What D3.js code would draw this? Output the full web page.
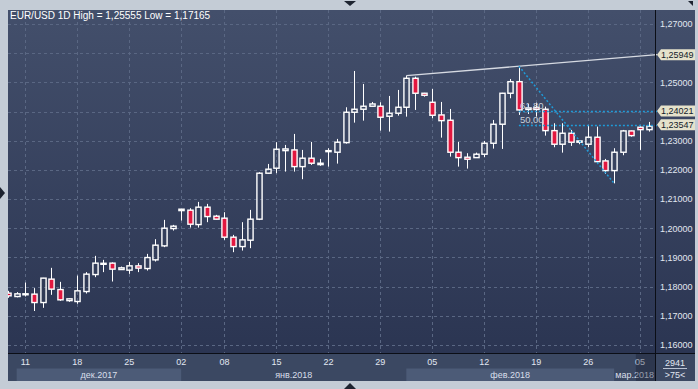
<!DOCTYPE html>
<html>
<head>
<meta charset="utf-8">
<script src="https://cdn.jsdelivr.net/npm/d3@7"></script>
<style>
  html, body { margin: 0; padding: 0; background: #c4ccd6; }
  svg { display: block; }
</style>
</head>
<body>
<svg id="chart"></svg>
<script>
// Daily EUR/USD candles, 8 Dec 2017 - 6 Mar 2018 (Sunday sessions included)
const dates = [
  "2017-12-08", "2017-12-10", "2017-12-11", "2017-12-12", "2017-12-13", "2017-12-14", "2017-12-15",
  "2017-12-17", "2017-12-18", "2017-12-19", "2017-12-20", "2017-12-21", "2017-12-22",
  "2017-12-24", "2017-12-25", "2017-12-26", "2017-12-27", "2017-12-28", "2017-12-29",
  "2017-12-31", "2018-01-02", "2018-01-03", "2018-01-04", "2018-01-05",
  "2018-01-07", "2018-01-08", "2018-01-09", "2018-01-10", "2018-01-11", "2018-01-12",
  "2018-01-14", "2018-01-15", "2018-01-16", "2018-01-17", "2018-01-18", "2018-01-19",
  "2018-01-21", "2018-01-22", "2018-01-23", "2018-01-24", "2018-01-25", "2018-01-26",
  "2018-01-28", "2018-01-29", "2018-01-30", "2018-01-31", "2018-02-01", "2018-02-02",
  "2018-02-04", "2018-02-05", "2018-02-06", "2018-02-07", "2018-02-08", "2018-02-09",
  "2018-02-11", "2018-02-12", "2018-02-13", "2018-02-14", "2018-02-15", "2018-02-16",
  "2018-02-18", "2018-02-19", "2018-02-20", "2018-02-21", "2018-02-22", "2018-02-23",
  "2018-02-25", "2018-02-26", "2018-02-27", "2018-02-28", "2018-03-01", "2018-03-02",
  "2018-03-04", "2018-03-05", "2018-03-06"
];
const open = [
  1.17777, 1.17661, 1.17740, 1.17743, 1.17455, 1.18257, 1.17900,
  1.17520, 1.17490, 1.17832, 1.18414, 1.18785, 1.18805,
  1.18586, 1.18565, 1.18712, 1.18620, 1.18918, 1.19397,
  1.19990, 1.20606, 1.20620, 1.20127, 1.20723,
  1.20414, 1.20346, 1.19695, 1.19373, 1.19592, 1.20312,
  1.21887, 1.22058, 1.22661, 1.22685, 1.22113, 1.22401,
  1.22182, 1.22651, 1.22606, 1.22935, 1.23976, 1.24079,
  1.24182, 1.24182, 1.23839, 1.23942, 1.24147, 1.25140,
  1.24627, 1.24318, 1.23884, 1.23702, 1.22606, 1.22435,
  1.22421, 1.22538, 1.22914, 1.23565, 1.24627, 1.25024,
  1.24072, 1.24140, 1.24079, 1.23346, 1.22880, 1.23257,
  1.22949, 1.22880, 1.23120, 1.22308, 1.21976, 1.22606,
  1.23336, 1.23462, 1.23380
];
const high = [
  1.17856, 1.17812, 1.18140, 1.17949, 1.18300, 1.18644, 1.18164,
  1.17600, 1.18380, 1.18497, 1.19055, 1.18918, 1.18830,
  1.18688, 1.18849, 1.18805, 1.19123, 1.19627, 1.20288,
  1.20116, 1.20660, 1.20688, 1.20904, 1.20836,
  1.20459, 1.20551, 1.19774, 1.20209, 1.20630, 1.21920,
  1.22205, 1.22949, 1.22856, 1.23233, 1.22685, 1.22959,
  1.22377, 1.22743, 1.23062, 1.24147, 1.25390, 1.24945,
  1.24329, 1.24318, 1.24534, 1.24740, 1.25229, 1.25195,
  1.24640, 1.24774, 1.24329, 1.24089, 1.22959, 1.22572,
  1.22593, 1.22993, 1.23712, 1.24640, 1.25116, 1.25555,
  1.24260, 1.24305, 1.24168, 1.23599, 1.23599, 1.23370,
  1.23010, 1.23541, 1.23483, 1.22377, 1.22743, 1.23370,
  1.23350, 1.23497, 1.23644
];
const low = [
  1.17616, 1.17634, 1.17661, 1.17165, 1.17274, 1.17719, 1.17514,
  1.17479, 1.17411, 1.17764, 1.18325, 1.18497, 1.18175,
  1.18575, 1.18438, 1.18497, 1.18551, 1.18860, 1.19353,
  1.19921, 1.20264, 1.20024, 1.20024, 1.20209,
  1.20300, 1.19603, 1.19181, 1.19236, 1.19318, 1.20280,
  1.21870, 1.21887, 1.21942, 1.21942, 1.21682, 1.22171,
  1.22140, 1.22113, 1.22216, 1.22900, 1.23620, 1.23688,
  1.24175, 1.23346, 1.23312, 1.23860, 1.23825, 1.24055,
  1.24510, 1.23771, 1.23106, 1.22455, 1.22113, 1.22045,
  1.22410, 1.22435, 1.22729, 1.22719, 1.24455, 1.23884,
  1.23918, 1.23825, 1.23175, 1.22777, 1.22592, 1.22822,
  1.22880, 1.22777, 1.22229, 1.21863, 1.21539, 1.22503,
  1.23140, 1.22685, 1.23312
];
const close = [
  1.17685, 1.17753, 1.17755, 1.17455, 1.18291, 1.17914, 1.17548,
  1.17582, 1.17856, 1.18428, 1.18805, 1.18800, 1.18599,
  1.18644, 1.18712, 1.18634, 1.18997, 1.19421, 1.20003,
  1.20072, 1.20654, 1.20140, 1.20723, 1.20401,
  1.20312, 1.19695, 1.19373, 1.19603, 1.20312, 1.21887,
  1.22024, 1.22709, 1.22719, 1.22113, 1.22401, 1.22229,
  1.22229, 1.22660, 1.22949, 1.23976, 1.24079, 1.24182,
  1.24260, 1.23805, 1.23942, 1.24147, 1.25140, 1.24627,
  1.24558, 1.23873, 1.23688, 1.22606, 1.22421, 1.22366,
  1.22538, 1.22914, 1.23565, 1.24627, 1.25024, 1.24055,
  1.24123, 1.24072, 1.23346, 1.22880, 1.23257, 1.22949,
  1.22993, 1.23120, 1.22284, 1.21976, 1.22606, 1.23336,
  1.23175, 1.23380, 1.23497
];

// Axis ticks and labels
const priceTicks = [1.16, 1.17, 1.18, 1.19, 1.20, 1.21, 1.22, 1.23, 1.24, 1.25, 1.26, 1.27];
const dateTicks = ["2017-12-11", "2017-12-18", "2017-12-25", "2018-01-02", "2018-01-08", "2018-01-15",
  "2018-01-22", "2018-01-29", "2018-02-05", "2018-02-12", "2018-02-19", "2018-02-26", "2018-03-05"];
const months = ["дек.2017", "янв.2018", "фев.2018", "мар.2018"];
const monthStarts = ["2017-12-10", "2018-01-02", "2018-02-01", "2018-03-01"];

// Drawing tools: trend line over two highs, Fibonacci retracement
const trendFrom = "2018-02-01";
const trendTo = "2018-02-16";
const fibHighDate = "2018-02-16";
const fibLowDate = "2018-03-01";
const fibLevels = [0.618, 0.5];
const fibNames = ["61,80", "50,00"];

const title = "EUR/USD 1D High = 1,25555 Low = 1,17165";
const barCount = ">75<";
const scaleInfo = "2941";

// Layout
const W = 698, H = 389;
const plot = { left: 8, top: 10, right: 655, bottom: 353 };
const panelRight = 695, panelBottom = 381;
const font = "'Liberation Sans', Arial, sans-serif";
const fmt = v => d3.format(".5f")(v).replace(".", ",");

const data = dates.map((d, i) => ({ date: d, o: open[i], h: high[i], l: low[i], c: close[i] }));
const byDate = new Map(data.map(d => [d.date, d]));

const svg = d3.select("#chart").attr("width", W).attr("height", H);

// Scales
const x = d3.scaleBand()
  .domain(dates)
  .range([3.67, 653.1])
  .paddingInner(0.25)
  .paddingOuter(0.125);
const y = d3.scaleLinear().domain([1.16, 1.27]).range([345, 24]);
const cx = d => x(d) + x.bandwidth() / 2;

// Background gradient
const defs = svg.append("defs");
const grad = defs.append("linearGradient").attr("id", "bg").attr("x1", 0).attr("y1", 0).attr("x2", 0).attr("y2", 1);
grad.append("stop").attr("offset", "0%").attr("stop-color", "#434f6b");
grad.append("stop").attr("offset", "100%").attr("stop-color", "#2b3552");
defs.append("clipPath").attr("id", "clip")
  .append("rect").attr("x", plot.left).attr("y", plot.top)
  .attr("width", plot.right - plot.left).attr("height", plot.bottom - plot.top);

// Outer frame and small arrows
svg.append("rect").attr("width", W).attr("height", H).attr("fill", "#c4ccd6");
svg.append("path").attr("d", "M344,1L356,1L350,6Z").attr("fill", "#1d2330");
svg.append("path").attr("d", "M344,389L356,389L350,383Z").attr("fill", "#1d2330");
svg.append("path").attr("d", "M0,187L5,193L0,199Z").attr("fill", "#1d2330");
svg.append("path").attr("d", "M688,1L693,1L693,6Z").attr("fill", "#1d2330");

svg.append("rect")
  .attr("x", plot.left).attr("y", plot.top)
  .attr("width", panelRight - plot.left).attr("height", plot.bottom - plot.top)
  .attr("fill", "url(#bg)");

// Bottom axis row with month bands
svg.append("rect")
  .attr("x", plot.left).attr("y", plot.bottom)
  .attr("width", panelRight - plot.left).attr("height", panelBottom - plot.bottom)
  .attr("fill", "#3b4862");

const bandEdges = monthStarts.map(d => cx(d)).concat([plot.right]);
months.forEach((m, i) => {
  const x0 = bandEdges[i], x1 = bandEdges[i + 1];
  if (i % 2 === 0) {
    svg.append("rect").attr("x", x0).attr("y", 368.5).attr("width", x1 - x0).attr("height", 12.5)
      .attr("fill", "#4c5b77");
  }
  svg.append("text")
    .attr("x", (x0 + x1) / 2).attr("y", 377.5)
    .attr("text-anchor", "middle")
    .attr("font-family", font).attr("font-size", 9)
    .attr("fill", "#d9dfea")
    .text(m);
});

// Grid
const grid = svg.append("g").attr("clip-path", "url(#clip)");
grid.selectAll(".hgrid").data(priceTicks).enter().append("line")
  .attr("x1", plot.left).attr("x2", plot.right)
  .attr("y1", d => Math.round(y(d)) + 0.5).attr("y2", d => Math.round(y(d)) + 0.5)
  .attr("stroke", "#5a6783").attr("stroke-dasharray", "3,3");
grid.selectAll(".vgrid").data(dateTicks).enter().append("line")
  .attr("x1", d => Math.round(cx(d)) + 0.5).attr("x2", d => Math.round(cx(d)) + 0.5)
  .attr("y1", plot.top).attr("y2", plot.bottom)
  .attr("stroke", "#5a6783").attr("stroke-dasharray", "3,3");

// Candles
const candles = svg.append("g").attr("clip-path", "url(#clip)")
  .selectAll(".candle").data(data).enter().append("g").attr("class", "candle");
const bodyW = x.bandwidth() - 1.3;

candles.append("line")
  .attr("x1", d => Math.round(cx(d.date)) + 0.5).attr("x2", d => Math.round(cx(d.date)) + 0.5)
  .attr("y1", d => y(d.h)).attr("y2", d => y(Math.max(d.o, d.c)))
  .attr("stroke", "#ffffff");
candles.append("line")
  .attr("x1", d => Math.round(cx(d.date)) + 0.5).attr("x2", d => Math.round(cx(d.date)) + 0.5)
  .attr("y1", d => y(Math.min(d.o, d.c))).attr("y2", d => y(d.l))
  .attr("stroke", "#ffffff");
candles.append("rect")
  .attr("x", d => Math.round(cx(d.date)) + 0.5 - bodyW / 2)
  .attr("width", bodyW)
  .attr("y", d => y(Math.max(d.o, d.c)))
  .attr("height", d => Math.max(1, Math.abs(y(d.o) - y(d.c))))
  .attr("fill", d => d.c < d.o ? "#e2173f" : "none")
  .attr("stroke", "#ffffff").attr("stroke-width", 1.4);

// Trend line through two highs, extended to the right edge
const p1 = [cx(trendFrom), y(byDate.get(trendFrom).h)];
const p2 = [cx(trendTo), y(byDate.get(trendTo).h)];
const edgeY = p2[1] + (p2[1] - p1[1]) / (p2[0] - p1[0]) * (plot.right - p2[0]);
svg.append("line")
  .attr("x1", p1[0]).attr("y1", p1[1]).attr("x2", plot.right + 2).attr("y2", edgeY)
  .attr("stroke", "#d6dae2").attr("stroke-width", 1.3);

// Fibonacci retracement
const fibHi = byDate.get(fibHighDate).h;
const fibLo = byDate.get(fibLowDate).l;
const fibValues = fibLevels.map(l => fibLo + l * (fibHi - fibLo));
svg.append("line")
  .attr("x1", cx(fibHighDate)).attr("y1", y(fibHi))
  .attr("x2", cx(fibLowDate)).attr("y2", y(fibLo))
  .attr("stroke", "#1f9bd8").attr("stroke-width", 1.5).attr("stroke-dasharray", "2,2");
fibValues.forEach((v, i) => {
  svg.append("line")
    .attr("x1", cx(fibHighDate)).attr("x2", plot.right + 3)
    .attr("y1", Math.round(y(v)) + 0.5).attr("y2", Math.round(y(v)) + 0.5)
    .attr("stroke", "#1f9bd8").attr("stroke-width", 1.5).attr("stroke-dasharray", "2,2");
  svg.append("text")
    .attr("x", cx(fibHighDate) + 1).attr("y", y(v) - 2)
    .attr("font-family", font).attr("font-size", 9.5)
    .attr("fill", "#c7cfdb")
    .text(fibNames[i]);
});

// Separators
svg.append("line").attr("x1", plot.right + 0.5).attr("x2", plot.right + 0.5)
  .attr("y1", plot.top).attr("y2", panelBottom).attr("stroke", "#0b0e16");
svg.append("line").attr("x1", plot.left).attr("x2", panelRight)
  .attr("y1", plot.bottom + 0.5).attr("y2", plot.bottom + 0.5).attr("stroke", "#0b0e16");

// Price axis
const tags = [y.invert(edgeY)].concat(fibValues);
const yAxis = svg.append("g")
  .attr("transform", `translate(${plot.right},0)`)
  .call(d3.axisRight(y).tickValues(priceTicks).tickSize(0).tickPadding(5).tickFormat(fmt));
yAxis.select(".domain").remove();
yAxis.selectAll("text")
  .attr("font-family", font).attr("font-size", 9).attr("fill", "#e1e7f1")
  .style("display", d => tags.some(t => Math.abs(y(t) - y(d)) < 9) ? "none" : null);

// Value tags on the price axis
tags.forEach(v => {
  const ty = y(v);
  svg.append("path")
    .attr("d", `M${plot.right + 2},${ty}L${plot.right + 6},${ty - 5.5}L${panelRight},${ty - 5.5}L${panelRight},${ty + 5.5}L${plot.right + 6},${ty + 5.5}Z`)
    .attr("fill", "#e5e2cb");
  svg.append("text")
    .attr("x", plot.right + 6).attr("y", ty).attr("dy", "0.35em")
    .attr("font-family", font).attr("font-size", 9).attr("fill", "#121a2a")
    .text(fmt(v));
});

// Date axis
const xAxis = svg.append("g")
  .attr("transform", `translate(0,${plot.bottom})`)
  .call(d3.axisBottom(x).tickValues(dateTicks).tickSize(0).tickPadding(6).tickFormat(d => d.slice(8)));
xAxis.select(".domain").remove();
xAxis.selectAll("text")
  .attr("font-family", font).attr("font-size", 9).attr("fill", "#e1e7f1");

// Highlight of the current bar on the date axis
svg.append("rect")
  .attr("x", x(dates[dates.length - 2]) - 1).attr("y", plot.bottom + 1)
  .attr("width", plot.right - x(dates[dates.length - 2]) + 1).attr("height", panelBottom - plot.bottom - 1)
  .attr("fill", "#141a2a").attr("opacity", 0.35);

// Corner info box
svg.append("text").attr("x", 675).attr("y", 365.5).attr("text-anchor", "middle")
  .attr("font-family", font).attr("font-size", 9).attr("fill", "#e1e7f1").text(scaleInfo);
svg.append("line").attr("x1", 663).attr("x2", 687).attr("y1", 368.5).attr("y2", 368.5)
  .attr("stroke", "#b9c2d2");
svg.append("text").attr("x", 675).attr("y", 377.5).attr("text-anchor", "middle")
  .attr("font-family", font).attr("font-size", 9).attr("fill", "#e1e7f1").text(barCount);

// Title
svg.append("text")
  .attr("x", 10).attr("y", 19)
  .attr("font-family", font).attr("font-size", 10)
  .attr("fill", "#ffffff")
  .text(title);
</script>
</body>
</html>
